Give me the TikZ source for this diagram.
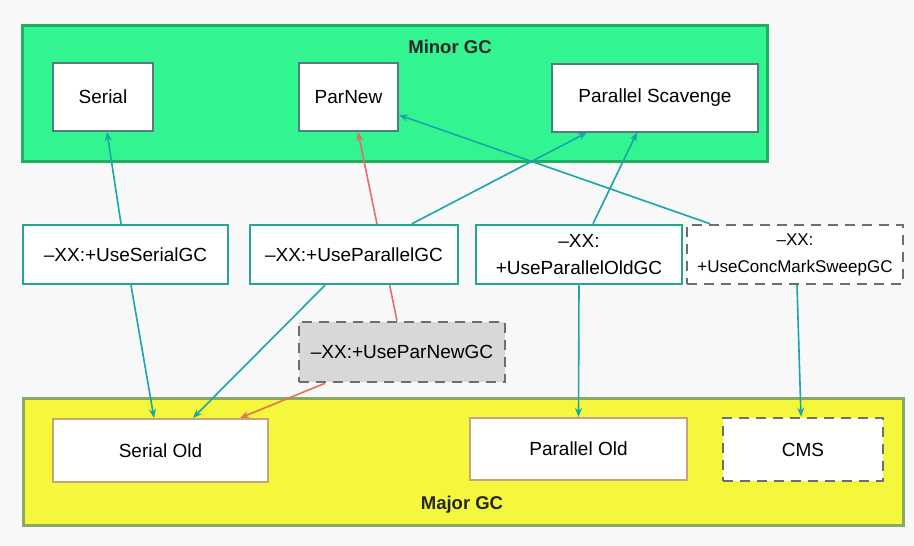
\documentclass[tikz,border=0pt]{standalone}
\usepackage{fontspec}
\setmainfont{Liberation Sans}
\usetikzlibrary{arrows.meta,positioning}
\definecolor{paper}{RGB}{248,248,248}
\definecolor{youngfill}{RGB}{50,245,145}
\definecolor{youngline}{RGB}{30,175,95}
\definecolor{oldfill}{RGB}{245,247,60}
\definecolor{oldline}{RGB}{135,170,105}
\definecolor{teal}{RGB}{25,165,170}
\definecolor{optline}{RGB}{40,165,145}
\definecolor{gcline}{RGB}{80,125,125}
\definecolor{tan}{RGB}{200,165,120}
\definecolor{dash}{RGB}{110,110,110}
\definecolor{shade}{RGB}{216,216,216}
\definecolor{rose}{RGB}{225,110,110}
\definecolor{rust}{RGB}{222,118,85}
\pgfdeclarelayer{back}
\pgfdeclarelayer{lines}
\pgfsetlayers{back,lines,main}
\tikzset{
  gen/.style={line width=3pt,inner sep=0pt},
  gc/.style={draw=gcline,line width=2pt,fill=white,minimum height=68pt,font=\fontsize{19}{23}\selectfont},
  oldgc/.style={draw=tan,line width=2pt,fill=white,minimum height=62pt,font=\fontsize{19}{23}\selectfont},
  opt/.style={draw=optline,line width=2.5pt,fill=white,minimum height=59pt,align=center,font=\fontsize{19}{27}\selectfont},
  optd/.style={draw=dash,line width=2.5pt,dash pattern=on 10pt off 7pt,fill=white,minimum height=59pt,align=center},
  lab/.style={font=\bfseries\fontsize{18.5}{22}\selectfont,text=black!85},
  arr/.style={-{Stealth[length=9pt,width=7pt]},line width=1.6pt,draw=teal},
  arrr/.style={-{Stealth[length=9pt,width=7pt]},line width=1.6pt,draw=rose}
}
\begin{document}
\begin{tikzpicture}[x=1pt,y=-1pt]
  \useasboundingbox (0,0) rectangle (914,546);
  \begin{pgfonlayer}{back}
    \fill[paper] (0,0) rectangle (914,546);
    \node[gen,draw=youngline,fill=youngfill,minimum width=745pt,minimum height=136pt] (minor) at (394.5,93) {};
    \node[gen,draw=oldline,fill=oldfill,minimum width=880pt,minimum height=127pt] (major) at (463,461.5) {};
  \end{pgfonlayer}
  \node[lab] (minorlab) at (450,47) {Minor GC};
  \node[lab] (majorlab) at (462,505) {Major GC};
  % young generation collectors
  \node[gc,minimum width=100pt] (serial) at (103,97) {Serial};
  \node[gc,minimum width=99pt] (parnew) at (348.5,97) {ParNew};
  \node[gc,minimum width=206pt] (scavenge) at (655,97.5) {Parallel Scavenge};
  % jvm options
  \node[opt,minimum width=205pt] (serialgc) at (125.5,254.5) {–XX:+UseSerialGC};
  \node[opt,minimum width=208pt] (parallelgc) at (354,254.5) {–XX:+UseParallelGC};
  \node[opt,minimum width=206pt] (paroldgc) at (579,254.5) {–XX:\\+UseParallelOldGC};
  \node[optd,minimum width=216pt,font=\fontsize{17}{27}\selectfont] (cmsgc) at (795,254.5) {–XX:\\+UseConcMarkSweepGC};
  \node[optd,fill=shade,minimum width=206pt,minimum height=60pt,font=\fontsize{19}{23}\selectfont] (parnewgc) at (402,352) {–XX:+UseParNewGC};
  % old generation collectors
  \node[oldgc,minimum width=215pt,minimum height=63pt] (serialold) at (160.5,450.5) {Serial Old};
  \node[oldgc,minimum width=217pt] (parold) at (578.5,449) {Parallel Old};
  \node[optd,line width=2.5pt,minimum width=160pt,minimum height=63pt,font=\fontsize{19}{23}\selectfont] (cms) at (803,449.5) {CMS};
  \begin{pgfonlayer}{lines}
    \draw[arr] ([xshift=-4.5pt]serialgc.north) -- ([xshift=4pt]serial.south);
    \draw[arr] ([xshift=5.5pt]serialgc.south) -- ([xshift=-6.5pt]serialold.north);
    \draw[arr] ([xshift=58pt]parallelgc.north) -- ([xshift=-68pt]scavenge.south);
    \draw[arr] ([xshift=-29pt]parallelgc.south) -- ([xshift=32.5pt]serialold.north);
    \draw[arrr] ([xshift=-5pt]parnewgc.north) -- ([xshift=9.5pt]parnew.south);
    \draw[arrr,draw=rust] ([xshift=-77pt]parnewgc.south) -- ([xshift=79.5pt]serialold.north);
    \draw[arr] ([xshift=14pt]paroldgc.north) -- ([xshift=-18pt]scavenge.south);
    \draw[arr] (paroldgc.south) -- (parold.north);
    \draw[arr] ([xshift=-85pt]cmsgc.north) -- ([yshift=-18pt]parnew.east);
    \draw[arr] ([xshift=2pt]cmsgc.south) -- ([xshift=-2pt]cms.north);
  \end{pgfonlayer}
\end{tikzpicture}
\end{document}
